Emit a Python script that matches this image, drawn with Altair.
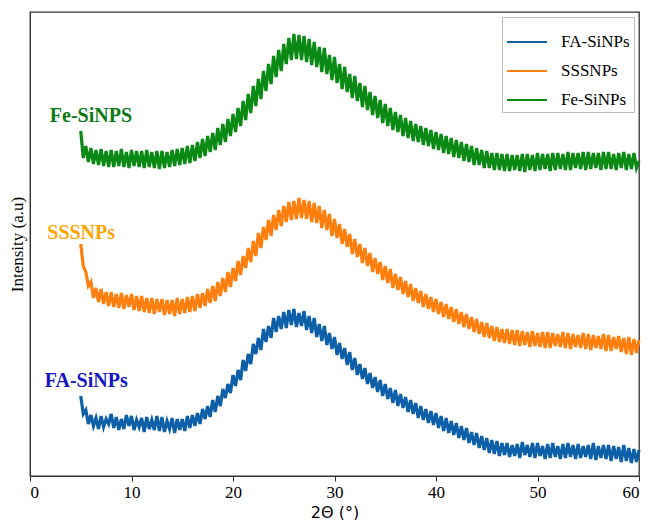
import altair as alt
import pandas as pd

series_names = ["FA-SiNPs", "SSSNPs", "Fe-SiNPs"]
series_colors = ["#0d5fa8", "#ff7f0e", "#0a8a14"]

# 2-theta grid of the scan (degrees), 0.25 deg step from 5 to 60
two_theta = [5 + 0.25 * i for i in range(221)]

fa_sinps = [
    80, 62, 66, 52, 61, 50, 58, 47, 60, 49, 57, 52, 62, 48, 59, 46,
    57, 47, 61, 50, 60, 46, 56, 49, 58, 44, 59, 47, 56, 46, 60, 45,
    59, 44, 55, 47, 58, 43, 57, 46, 57, 45, 60, 48, 61, 50, 63, 52,
    67, 57, 70, 59, 76, 64, 80, 70, 87, 78, 92, 83, 101, 90, 106, 96,
    116, 105, 122, 112, 132, 122, 138, 126, 147, 134, 150, 138, 158, 144, 160, 147,
    164, 148, 166, 151, 167, 149, 163, 150, 165, 146, 160, 143, 158, 139, 152, 135,
    150, 131, 143, 127, 139, 121, 133, 117, 128, 111, 124, 106, 118, 101, 112, 97,
    108, 92, 103, 88, 99, 84, 96, 80, 92, 77, 88, 73, 86, 70, 82, 68,
    79, 64, 76, 62, 73, 58, 70, 56, 67, 53, 65, 51, 63, 48, 60, 45,
    58, 43, 55, 41, 53, 38, 50, 36, 48, 33, 44, 31, 43, 28, 40, 26,
    38, 23, 36, 22, 35, 20, 33, 21, 33, 19, 31, 20, 32, 18, 34, 21,
    31, 19, 33, 18, 33, 20, 30, 17, 32, 18, 33, 19, 30, 17, 32, 18,
    33, 19, 31, 17, 32, 18, 30, 19, 31, 17, 33, 16, 30, 18, 31, 17,
    31, 15, 30, 17, 29, 14, 31, 15, 28, 13, 27, 14, 26,
]

sssnps = [
    232, 210, 204, 190, 194, 178, 188, 174, 187, 172, 184, 170, 184, 169, 182, 168,
    183, 167, 181, 169, 182, 166, 180, 165, 180, 164, 178, 163, 178, 162, 177, 164,
    177, 161, 176, 162, 176, 160, 178, 162, 177, 163, 179, 164, 180, 165, 182, 168,
    183, 170, 187, 173, 190, 175, 194, 180, 198, 184, 204, 189, 208, 195, 215, 201,
    220, 208, 228, 214, 235, 220, 243, 228, 249, 236, 256, 240, 261, 246, 266, 250,
    270, 254, 274, 256, 275, 257, 278, 258, 276, 257, 275, 254, 273, 253, 270, 248,
    266, 246, 262, 240, 257, 238, 252, 232, 247, 229, 242, 222, 237, 219, 232, 213,
    228, 210, 223, 204, 218, 202, 214, 196, 210, 193, 207, 188, 202, 186, 199, 182,
    195, 179, 192, 175, 188, 173, 185, 169, 182, 167, 179, 164, 177, 162, 174, 159,
    172, 157, 169, 154, 167, 152, 164, 149, 162, 147, 159, 144, 157, 142, 154, 139,
    153, 138, 150, 135, 149, 134, 147, 133, 147, 132, 146, 131, 146, 130, 145, 131,
    144, 129, 145, 130, 143, 129, 144, 128, 144, 128, 143, 130, 142, 129, 144, 128,
    143, 127, 142, 129, 141, 128, 143, 127, 142, 126, 141, 128, 140, 127, 142, 125,
    141, 125, 139, 127, 140, 124, 138, 122, 139, 121, 137, 123, 136,
]

fe_sinps = [
    345, 318, 330, 314, 328, 312, 326, 311, 327, 310, 325, 309, 326, 309, 325, 310,
    327, 309, 324, 308, 326, 310, 325, 309, 325, 308, 326, 309, 324, 308, 325, 307,
    325, 308, 324, 309, 326, 310, 327, 311, 328, 312, 330, 313, 331, 315, 334, 318,
    337, 320, 340, 324, 343, 326, 348, 331, 352, 334, 357, 340, 362, 344, 368, 350,
    375, 356, 382, 363, 390, 370, 397, 377, 405, 385, 412, 392, 420, 399, 426, 405,
    432, 412, 438, 416, 442, 417, 441, 416, 440, 414, 437, 411, 434, 409, 429, 404,
    428, 402, 421, 396, 419, 393, 412, 387, 409, 384, 402, 378, 400, 375, 393, 369,
    390, 366, 384, 361, 380, 358, 376, 353, 372, 350, 368, 346, 364, 344, 361, 340,
    358, 338, 355, 335, 352, 334, 350, 331, 348, 330, 346, 327, 344, 326, 342, 323,
    340, 322, 338, 319, 336, 318, 334, 315, 332, 314, 330, 311, 328, 311, 326, 308,
    325, 308, 323, 306, 323, 306, 322, 305, 322, 305, 321, 306, 321, 305, 322, 304,
    322, 306, 321, 305, 323, 306, 322, 307, 322, 305, 323, 306, 323, 307, 322, 306,
    324, 306, 323, 308, 323, 307, 324, 306, 324, 307, 323, 308, 323, 306, 324, 307,
    324, 307, 322, 306, 323, 308, 324, 306, 322, 307, 323, 308, 315,
]

label_texts = ["Fe-SiNPS", "SSSNPs", "FA-SiNPs"]
label_x = [1.95, 1.7, 1.45]
label_y = [360, 243, 95]
label_colors = ["#0b7a12", "#ffa500", "#1414c0"]

rows = []
for name, vals in zip(series_names, [fa_sinps, sssnps, fe_sinps]):
    for t, v in zip(two_theta, vals):
        rows.append({"theta": t, "intensity": v, "sample": name})
df = pd.DataFrame(rows)

labels_df = pd.DataFrame({"x": label_x, "y": label_y, "text": label_texts, "color": label_colors})

SERIF = "Liberation Serif"

x_enc = alt.X(
    "theta:Q",
    scale=alt.Scale(domain=[0, 60], nice=False, zero=False),
    axis=alt.Axis(values=[0, 10, 20, 30, 40, 50, 60], title="2Θ (°)", grid=False,
                  labelFont=SERIF, labelFontSize=17, labelColor="#000",
                  titleFont="DejaVu Sans", titleFontSize=16, titleFontWeight="normal",
                  titleColor="#000", titlePadding=4, tickSize=5, tickColor="#333",
                  domainColor="#333", labelPadding=3),
)
y_enc = alt.Y(
    "intensity:Q",
    scale=alt.Scale(domain=[0, 464], nice=False, zero=False),
    axis=alt.Axis(title="Intensity (a.u)", labels=False, ticks=False, grid=False,
                  titleFont=SERIF, titleFontSize=17, titleFontWeight="normal",
                  titleColor="#000", titlePadding=4, domainColor="#333"),
)

lines = alt.Chart(df).mark_line(strokeWidth=3.2).encode(
    x=x_enc,
    y=y_enc,
    color=alt.Color(
        "sample:N",
        scale=alt.Scale(domain=series_names, range=series_colors),
        sort=series_names,
        legend=alt.Legend(title=None, orient="top-right", offset=5,
                          symbolType="stroke", symbolSize=1600, symbolStrokeWidth=2,
                          labelFont=SERIF, labelFontSize=17, labelColor="#000",
                          strokeColor="#bbb", fillColor="white", padding=4,
                          rowPadding=-13, labelOffset=13),
    ),
    detail="sample:N",
)

texts = alt.Chart(labels_df).mark_text(
    font=SERIF, fontSize=20, fontWeight="bold", align="left", baseline="middle"
).encode(
    x="x:Q", y="y:Q", text="text:N",
    color=alt.Color("color:N", scale=None, legend=None),
)

chart = (lines + texts).properties(
    width=609, height=464, padding={"left": 0, "top": 4, "right": 0, "bottom": 0}
).configure_view(stroke="#333", strokeWidth=1.3)

chart.save("out.html", embed_options={"renderer": "svg", "actions": False})
